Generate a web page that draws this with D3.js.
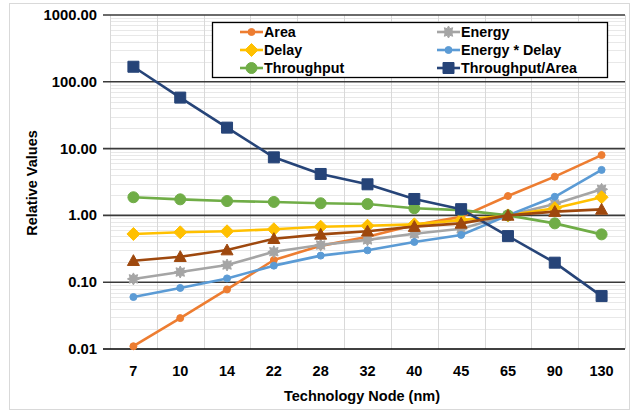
<!DOCTYPE html>
<html>
<head>
<meta charset="utf-8">
<script src="https://cdn.jsdelivr.net/npm/d3@7"></script>
<style>
  body { margin: 0; background: #fff; }
  text { font-family: "Liberation Sans", Arial, sans-serif; font-weight: bold; fill: #000; }
</style>
</head>
<body>
<svg id="chart" width="639" height="413"></svg>
<script>
// data
const nodes = ["7", "10", "14", "22", "28", "32", "40", "45", "65", "90", "130"];
const area = [0.011, 0.029, 0.078, 0.215, 0.35, 0.48, 0.72, 0.95, 1.95, 3.8, 8.0];
const energy = [0.112, 0.142, 0.181, 0.286, 0.36, 0.43, 0.53, 0.63, 1.0, 1.48, 2.46];
const delay = [0.527, 0.558, 0.578, 0.62, 0.677, 0.70, 0.735, 0.85, 1.0, 1.28, 1.87];
const energyDelay = [0.06, 0.082, 0.114, 0.177, 0.25, 0.30, 0.40, 0.51, 1.0, 1.9, 4.8];
const throughput = [1.87, 1.74, 1.64, 1.59, 1.52, 1.48, 1.28, 1.2, 1.0, 0.76, 0.52];
const throughputArea = [168, 58, 20.6, 7.4, 4.17, 2.92, 1.76, 1.24, 0.49, 0.196, 0.062];
const extra = [0.21, 0.241, 0.303, 0.448, 0.52, 0.58, 0.68, 0.76, 1.0, 1.14, 1.23]; // brown series, not in legend
const yTicks = [0.01, 0.1, 1, 10, 100, 1000];

const series = [
  {name: "Area", values: area, color: "#ED7D31", marker: "circle", size: 3.5},
  {name: "Energy", values: energy, color: "#A5A5A5", marker: "star", size: 6},
  {name: "Delay", values: delay, color: "#FFC000", marker: "diamond", size: 6.5},
  {name: "Energy * Delay", values: energyDelay, color: "#5B9BD5", marker: "circle", size: 3.5},
  {name: "Throughput", values: throughput, color: "#70AD47", marker: "circle", size: 5.5},
  {name: "Throughput/Area", values: throughputArea, color: "#264478", marker: "square", size: 5.5},
  {name: null, values: extra, color: "#9E480E", marker: "triangle", size: 6}
];

const margin = {top: 15, left: 110, right: 14, bottom: 64};
const width = 639, height = 413;

const svg = d3.select("#chart");

// outer frame
svg.append("rect")
  .attr("x", 9.5).attr("y", 3.5)
  .attr("width", 620).attr("height", 406)
  .attr("fill", "#fff").attr("stroke", "#d9d9d9");

const x = d3.scaleBand()
  .domain(nodes)
  .range([margin.left, width - margin.right]);

const y = d3.scaleLog()
  .domain([0.01, 1000])
  .range([height - margin.bottom, margin.top]);

// minor horizontal gridlines
let minors = [];
yTicks.slice(0, -1).forEach(function(d) {
  for (let k = 2; k < 10; k++) minors.push(d * k);
});
svg.append("g").selectAll("line")
  .data(minors)
  .enter().append("line")
    .attr("x1", margin.left).attr("x2", width - margin.right)
    .attr("y1", d => Math.round(y(d)) + 0.5).attr("y2", d => Math.round(y(d)) + 0.5)
    .attr("stroke", "#e8e8e8").attr("stroke-width", 1);

// vertical gridlines between categories
svg.append("g").selectAll("line")
  .data(nodes.concat(["end"]))
  .enter().append("line")
    .attr("x1", (d, i) => Math.round(margin.left + i * x.bandwidth()) + 0.5)
    .attr("x2", (d, i) => Math.round(margin.left + i * x.bandwidth()) + 0.5)
    .attr("y1", margin.top).attr("y2", height - margin.bottom)
    .attr("stroke", "#d9d9d9").attr("stroke-width", 1);

// major gridlines + ticks
svg.append("g").selectAll("line")
  .data(yTicks)
  .enter().append("line")
    .attr("x1", margin.left - 7).attr("x2", width - margin.right)
    .attr("y1", d => y(d)).attr("y2", d => y(d))
    .attr("stroke", d => d == 0.01 ? "#000" : "#3a3a3a")
    .attr("stroke-width", 1.6);

// y labels
svg.append("g").selectAll("text")
  .data(yTicks)
  .enter().append("text")
    .attr("x", 97).attr("y", d => y(d) + 5)
    .attr("text-anchor", "end")
    .style("font-size", "14.8px")
    .text(d => d.toFixed(2));

// x labels
svg.append("g").selectAll("text")
  .data(nodes)
  .enter().append("text")
    .attr("x", d => x(d) + x.bandwidth() / 2)
    .attr("y", 376)
    .attr("text-anchor", "middle")
    .style("font-size", "14.5px")
    .text(d => d);

svg.append("text")
  .attr("x", 362).attr("y", 401)
  .attr("text-anchor", "middle")
  .style("font-size", "14.5px")
  .text("Technology Node (nm)");

svg.append("text")
  .attr("transform", "translate(37,183) rotate(-90)")
  .attr("text-anchor", "middle")
  .style("font-size", "14.5px")
  .text("Relative Values");

function markerPath(type, s) {
  if (type == "circle") return d3.symbol(d3.symbolCircle, Math.PI * s * s)();
  if (type == "square") return "M" + (-s) + "," + (-s) + "h" + 2 * s + "v" + 2 * s + "h" + (-2 * s) + "Z";
  if (type == "diamond") return "M0," + (-s) + "L" + s + ",0L0," + s + "L" + (-s) + ",0Z";
  if (type == "triangle") return "M0," + (-s) + "L" + s + "," + (s * 0.8) + "L" + (-s) + "," + (s * 0.8) + "Z";
  if (type == "star") {
    let pts = [];
    for (let i = 0; i < 16; i++) {
      let r = i % 2 == 0 ? s : s * 0.6;
      let a = i * Math.PI / 8;
      pts.push([r * Math.sin(a), -r * Math.cos(a)]);
    }
    return "M" + pts.join("L") + "Z";
  }
}

const line = d3.line()
  .x((d, i) => x(nodes[i]) + x.bandwidth() / 2)
  .y(d => y(d));

const plot = svg.append("g");
series.forEach(function(s) {
  plot.append("path")
    .attr("d", line(s.values))
    .attr("fill", "none")
    .attr("stroke", s.color)
    .attr("stroke-width", 2.6)
    .attr("stroke-linejoin", "round");
  plot.append("g").selectAll("path")
    .data(s.values)
    .enter().append("path")
      .attr("transform", (d, i) => "translate(" + (x(nodes[i]) + x.bandwidth() / 2) + "," + y(d) + ")")
      .attr("d", markerPath(s.marker, s.size))
      .attr("fill", s.color)
      .attr("stroke", s.color)
      .attr("stroke-width", 1)
      .attr("stroke-linejoin", "round");
});

// legend
const legend = svg.append("g");
legend.append("rect")
  .attr("x", 212.5).attr("y", 22.5)
  .attr("width", 395).attr("height", 55)
  .attr("fill", "#fff").attr("stroke", "#000").attr("stroke-width", 1.3);

const legendItems = series.filter(s => s.name);
const lx = [240, 437], ly = [32, 50, 68];
legendItems.forEach(function(s, i) {
  let col = i % 2, row = Math.floor(i / 2);
  let g = legend.append("g").attr("transform", "translate(" + lx[col] + "," + ly[row] + ")");
  g.append("line").attr("x1", 0).attr("x2", 23).attr("y1", 0).attr("y2", 0)
    .attr("stroke", s.color).attr("stroke-width", 2.6);
  g.append("path").attr("transform", "translate(11.5,0)")
    .attr("d", markerPath(s.marker, s.size))
    .attr("fill", s.color).attr("stroke", s.color);
  g.append("text").attr("x", 24).attr("y", 5)
    .style("font-size", "14.3px")
    .text(s.name);
});
</script>
</body>
</html>
